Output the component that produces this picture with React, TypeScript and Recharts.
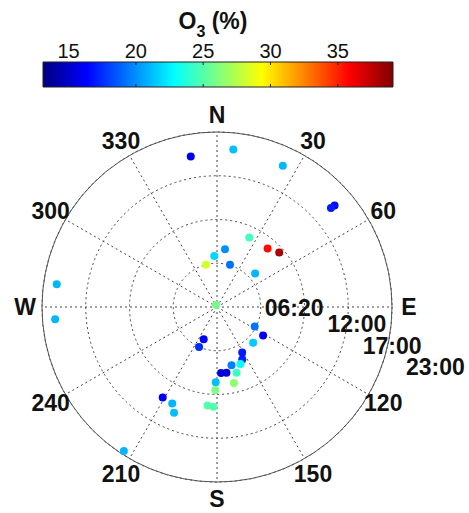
import React from 'react';
import {
  RadarChart,
  Radar,
  PolarGrid,
  PolarAngleAxis,
  PolarRadiusAxis,
  ComposedChart,
  Line,
  XAxis,
  YAxis,
  ReferenceArea,
  ReferenceLine,
  Label,
} from 'recharts';

// ---- data ----
// wind direction (deg, clockwise from N)
const directionDeg = [
  24.9, 40.8, 48.8, 7.9, 357.0, 345.4, 17.1, 48.7, 333.0,
  350.1, 5.9, 25.0, 49.2, 49.0, 278.1, 265.7,
  117.3, 121.8, 134.6, 202.4, 204.2, 151.1, 154.3, 157.7, 166.0,
  176.5, 171.8, 163.5, 181.0, 167.4, 181.2, 185.5, 182.0,
  211.0, 204.9, 202.1, 212.9,
];
// time of day, in ring units (1 = 06:20, 2 = 12:00, 3 = 17:00, 4 = 23:00)
const timeRadius = [
  1.75, 1.77, 1.89, 1.33, 1.17, 1.0, 1.01, 1.16, 0.05,
  3.49, 3.62, 3.56, 3.55, 3.45, 3.7, 3.71,
  0.97, 1.24, 1.16, 0.8, 1.0, 1.19, 1.33, 1.41, 1.37,
  1.51, 1.52, 1.57, 1.72, 1.78, 1.9, 2.26, 2.28,
  2.41, 2.43, 2.61, 3.92,
];
// O3 (%)
const o3Percent = [
  24.5, 35.6, 38.0, 20.0, 21.8, 28.3, 19.2, 21.0, 25.8,
  16.0, 21.2, 21.0, 16.5, 17.0, 21.0, 21.0,
  19.3, 16.2, 21.5, 16.3, 17.5, 17.0, 17.2, 23.0, 19.6,
  15.5, 15.3, 24.3, 21.2, 26.5, 26.0, 25.0, 25.0,
  16.0, 21.0, 21.2, 21.0,
];

const angleTicks = [0, 30, 60, 90, 120, 150, 180, 210, 240, 270, 300, 330];
const angleLabels = ['N', '30', '60', 'E', '120', '150', 'S', '210', '240', 'W', '300', '330'];
const radiusTicks = [0, 1, 2, 3, 4];
const radiusLabels = ['', '06:20', '12:00', '17:00', '23:00'];
const colorTicks = [15, 20, 25, 30, 35];
const colorDomain = [13.1, 39.1];

// ---- helpers ----
const FONT = "'Liberation Sans', Arial, Helvetica, sans-serif";

function jetT(t: number): string {
  const c = (x: number) => Math.round(255 * Math.max(0, Math.min(1, x)));
  const r = c(1.5 - Math.abs(4 * t - 3));
  const g = c(1.5 - Math.abs(4 * t - 2));
  const b = c(1.5 - Math.abs(4 * t - 1));
  return `rgb(${r},${g},${b})`;
}
function jet(v: number): string {
  const t = (v - colorDomain[0]) / (colorDomain[1] - colorDomain[0]);
  return jetT(Math.max(0, Math.min(1, t)));
}

const radarData = directionDeg.map((d, i) => ({ dir: d, r: timeRadius[i], o3: o3Percent[i] }));
const colorbarData = colorDomain.map((v, i) => ({ v, y: i }));

const AngleTick = (props: any) => {
  const { x, y, payload } = props;
  const idx = angleTicks.indexOf(payload.value);
  if (idx < 0) return <g />;
  return (
    <text x={x} y={y} dy="0.36em" textAnchor="middle" fontSize={23} fontWeight="bold" fontFamily={FONT} fill="#111">
      {angleLabels[idx]}
    </text>
  );
};

const radiusLabelDx = [0, 4, 23, 14.5, 14];
const radiusLabelDy = [0, 1, 17, 39, 60];

const RadiusTick = (props: any) => {
  const { x, y, payload } = props;
  const idx = radiusTicks.indexOf(payload.value);
  if (idx <= 0) return <g />;
  return (
    <text
      x={x + radiusLabelDx[idx]}
      y={y + radiusLabelDy[idx]}
      dy="0.36em"
      textAnchor="start"
      fontSize={23}
      fontWeight="bold"
      fontFamily={FONT}
      fill="#111"
    >
      {radiusLabels[idx]}
    </text>
  );
};

const renderDot = (props: any) => {
  const { cx, cy, payload, index } = props;
  return <circle key={`d${index}`} cx={cx} cy={cy} r={4} fill={jet(payload.o3)} stroke="none" />;
};

const TitleLabel = (props: any) => {
  const vb = props.viewBox || { x: 43, y: 32, width: 350 };
  return (
    <text
      x={vb.x + vb.width / 2 - 5}
      y={vb.y - 3}
      textAnchor="middle"
      fontSize={23}
      fontWeight="bold"
      fontFamily={FONT}
      fill="#111"
    >
      O
      <tspan fontSize={16} dy={8}>3</tspan>
      <tspan dy={-8}> (%)</tspan>
    </text>
  );
};

const gradStops = Array.from({ length: 17 }, (_, i) => i / 16);

export default function App() {
  return (
    <div style={{ position: 'absolute', left: 0, top: 0, width: 469, height: 513, background: '#fff' }}>
      <div style={{ position: 'absolute', left: 0, top: 0 }}>
        <RadarChart
          width={469}
          height={513}
          data={radarData}
          cx={217}
          cy={307}
          innerRadius={0}
          outerRadius={175}
          startAngle={90}
          endAngle={-270}
          margin={{ top: 0, right: 0, bottom: 0, left: 0 }}
        >
          <PolarGrid gridType="circle" stroke="#444" strokeDasharray="2 3" strokeWidth={1} />
          <PolarAngleAxis
            dataKey="dir"
            type="number"
            domain={[0, 360]}
            ticks={angleTicks}
            tickCount={13}
            tick={AngleTick}
            tickLine={false}
            tickSize={17}
            axisLine={true}
            axisLineType="circle"
            stroke="#555"
          />
          <PolarRadiusAxis
            angle={0}
            type="number"
            domain={[0, 4]}
            tickCount={5}
            axisLine={false}
            tickLine={false}
            tick={RadiusTick}
          />
          <Radar
            dataKey="r"
            stroke="none"
            fill="none"
            fillOpacity={0}
            dot={renderDot}
            isAnimationActive={false}
          />
        </RadarChart>
      </div>
      <div style={{ position: 'absolute', left: 0, top: 0 }}>
        <ComposedChart
          width={469}
          height={100}
          data={colorbarData}
          margin={{ top: 32, right: 76, bottom: 13, left: 43 }}
        >
          <defs>
            <linearGradient id="jetGrad" x1="0" y1="0" x2="1" y2="0">
              {gradStops.map((t) => (
                <stop key={t} offset={`${t * 100}%`} stopColor={jetT(t)} />
              ))}
            </linearGradient>
          </defs>
          <XAxis
            dataKey="v"
            type="number"
            orientation="top"
            domain={colorDomain}
            ticks={colorTicks}
            height={30}
            axisLine={false}
            tickLine={false}
            tickSize={0}
            tickMargin={4}
            allowDataOverflow
            interval={0}
            tick={{ fontSize: 20, fill: '#111', fontFamily: FONT }}
          >
            <Label content={TitleLabel} />
          </XAxis>
          <YAxis dataKey="y" type="number" domain={[0, 1]} hide />
          <Line dataKey="y" stroke="none" dot={false} activeDot={false} isAnimationActive={false} />
          <ReferenceArea
            x1={colorDomain[0]}
            x2={colorDomain[1]}
            y1={0}
            y2={1}
            fill="url(#jetGrad)"
            fillOpacity={1}
            stroke="#222"
            strokeWidth={1}
            ifOverflow="visible"
          />
          {colorTicks.map((t) => (
            <ReferenceLine key={`b${t}`} segment={[{ x: t, y: 0 }, { x: t, y: 0.12 }]} stroke="#222" ifOverflow="visible" />
          ))}
          {colorTicks.map((t) => (
            <ReferenceLine key={`t${t}`} segment={[{ x: t, y: 0.88 }, { x: t, y: 1 }]} stroke="#222" ifOverflow="visible" />
          ))}
        </ComposedChart>
      </div>
    </div>
  );
}
